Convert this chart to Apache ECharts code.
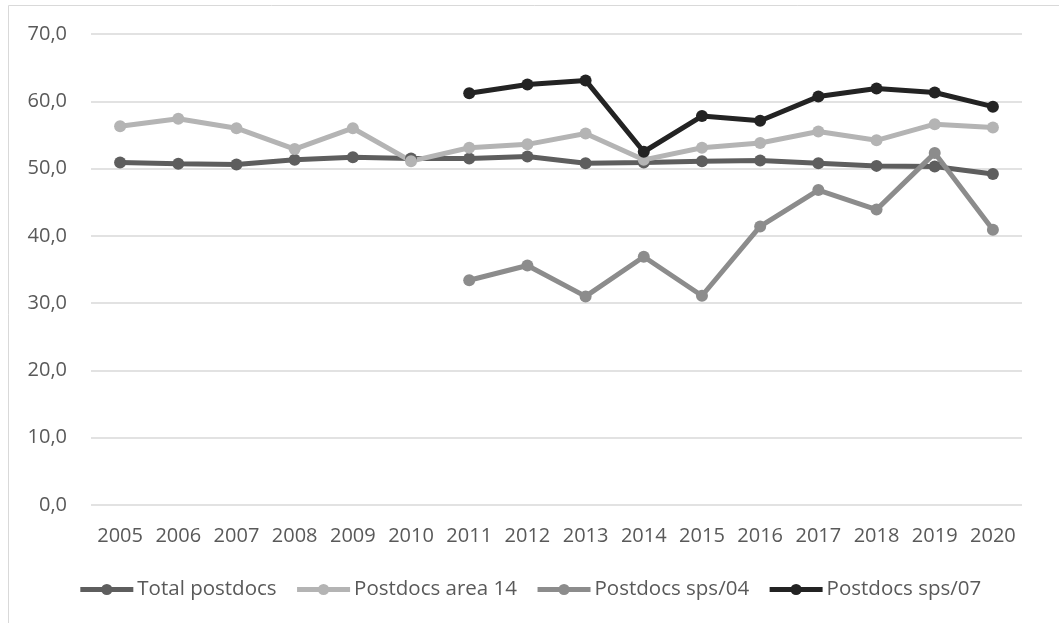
<!DOCTYPE html>
<html lang="en">
<head>
    <meta charset="UTF-8">
    <title>postdocs</title>
    <script src="https://cdn.jsdelivr.net/npm/echarts@6/dist/echarts.min.js"></script>
    <style>
        html, body { margin: 0; padding: 0; background: #fff; }
    </style>
</head>
<body>
<div id="main" style="width: 1059px;height:623px;"></div>
<script>
    var years = ['2005', '2006', '2007', '2008', '2009', '2010', '2011', '2012',
        '2013', '2014', '2015', '2016', '2017', '2018', '2019', '2020'];

    var totalPostdocs = [50.9, 50.7, 50.6, 51.3, 51.7, 51.5, 51.5, 51.8,
        50.8, 50.9, 51.1, 51.2, 50.8, 50.4, 50.3, 49.2];
    var area14 = [56.3, 57.4, 56.0, 52.9, 56.0, 51.1, 53.1, 53.6,
        55.2, 51.3, 53.1, 53.8, 55.5, 54.2, 56.6, 56.1];
    var sps04 = [null, null, null, null, null, null, 33.4, 35.6,
        31.0, 36.9, 31.1, 41.4, 46.8, 43.9, 52.3, 40.9];
    var sps07 = [null, null, null, null, null, null, 61.2, 62.5,
        63.1, 52.5, 57.8, 57.1, 60.7, 61.9, 61.3, 59.2];

    var yTicks = [0, 10, 20, 30, 40, 50, 60, 70];

    var font = '"Open Sans", "Liberation Sans", sans-serif';
    var myChart = echarts.init(document.getElementById('main'));

    function lineSeries(name, data, color) {
        return {
            name: name,
            type: 'line',
            data: data,
            symbol: 'circle',
            symbolSize: 12,
            showAllSymbol: true,
            animation: false,
            itemStyle: { color: color },
            lineStyle: { color: color, width: 5 }
        };
    }

    var option = {
        animation: false,
        textStyle: { fontFamily: font },
        graphic: [{
            type: 'rect',
            shape: { x: 8.5, y: 5.5, width: 1080, height: 640 },
            style: { fill: 'none', stroke: '#d9d9d9', lineWidth: 1 },
            silent: true
        }],
        grid: { left: 91, right: 37, top: 34, bottom: 118 },
        legend: {
            bottom: 18,
            left: 'center',
            itemWidth: 53,
            itemHeight: 14,
            itemGap: 18,
            lineStyle: { width: 5 },
            textStyle: { fontFamily: font, fontSize: 20.5, color: '#595959', padding: [0, 0, 0, -1] },
            data: ['Total postdocs', 'Postdocs area 14', 'Postdocs sps/04', 'Postdocs sps/07']
        },
        xAxis: {
            type: 'category',
            data: years,
            boundaryGap: true,
            axisLine: { show: false },
            axisTick: { show: false },
            axisLabel: { interval: 0, fontFamily: font, fontSize: 20, color: '#595959', margin: 21 }
        },
        yAxis: {
            type: 'value',
            min: yTicks[0],
            max: yTicks[yTicks.length - 1],
            interval: 10,
            axisLine: { show: false },
            axisTick: { show: false },
            axisLabel: {
                fontFamily: font, fontSize: 20, color: '#595959', margin: 24,
                formatter: function (v) { return v.toFixed(1).replace('.', ','); }
            },
            splitLine: { lineStyle: { color: '#d9d9d9', width: 1.5 } }
        },
        series: [
            lineSeries('Total postdocs', totalPostdocs, '#5e5e5e'),
            lineSeries('Postdocs area 14', area14, '#b4b4b4'),
            lineSeries('Postdocs sps/04', sps04, '#8c8c8c'),
            lineSeries('Postdocs sps/07', sps07, '#232323')
        ]
    };
    myChart.setOption(option);
</script>
</body>
</html>
